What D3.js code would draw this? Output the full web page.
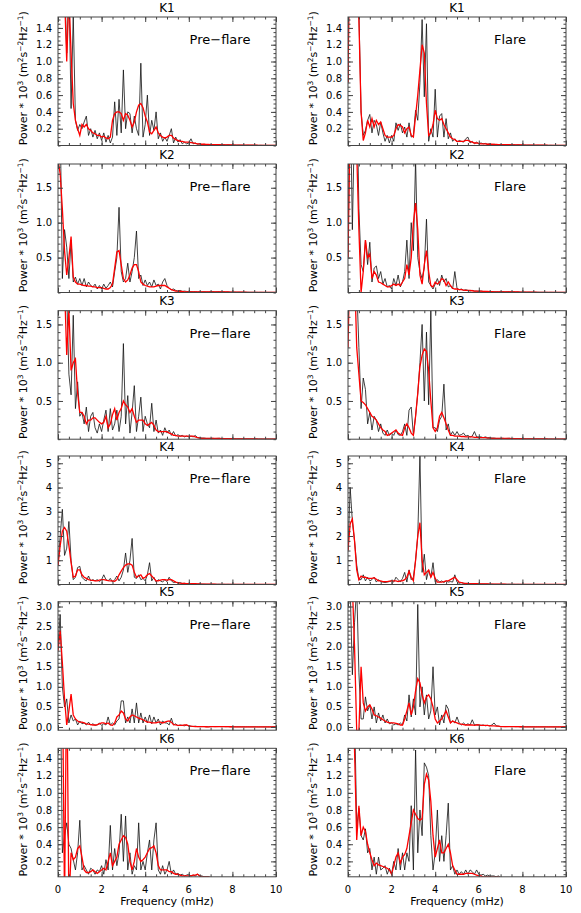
<!DOCTYPE html>
<html>
<head>
<meta charset="utf-8">
<script src="https://cdn.jsdelivr.net/npm/d3@7"></script>
<style>
  body { margin: 0; background: #fff; }
  svg { display: block; font-family: "DejaVu Sans", sans-serif; }
</style>
</head>
<body>
<svg id="chart" width="581" height="913"></svg>
<script>

// frequency grid, 0.1 mHz steps from 0 to 10 mHz
const freq = d3.range(0, 101).map(i => i / 10)

// values from 7.0 to 10.0 mHz, nearly flat for every panel
const rawTail = [0.01,0.012,0.008,0.01,0.012,0.008,0.01,0.006,0.008,0.006,
                 0.005,0.006,0.004,0.005,0.004,0.004,0.003,0.004,0.003,0.003,
                 0.003,0.003,0.002,0.003,0.002,0.002,0.002,0.002,0.002,0.002,0.002]
const smoothTail = [0.01,0.01,0.01,0.009,0.009,0.008,0.008,0.007,0.007,0.006,
                    0.006,0.005,0.005,0.005,0.004,0.004,0.004,0.003,0.003,0.003,
                    0.003,0.003,0.002,0.002,0.002,0.002,0.002,0.002,0.002,0.002,0.002]

// power (x10^3), 0.0 .. 6.9 mHz ; black = raw, red = smoothed
const k1PreRaw = [3.0,2.8,2.4,2.0,1.1,1.9,0.44,1.55,0.3,0.18,
  0.25,0.2,0.28,0.35,0.12,0.2,0.1,0.18,0.08,0.15,
  0.06,0.15,0.04,0.12,0.03,0.1,0.52,0.12,0.55,0.15,
  0.9,0.2,0.4,0.38,0.15,0.35,0.2,0.12,0.98,0.1,
  0.25,0.6,0.12,0.3,0.18,0.4,0.08,0.15,0.05,0.1,
  0.05,0.12,0.2,0.03,0.1,0.04,0.07,0.02,0.04,0.02,
  0.03,0.08,0.02,0.03,0.015,0.02,0.01,0.015,0.01,0.01]
const k1PreSmooth = [3.0,2.6,2.2,1.8,1.0,1.8,1.1,0.5,0.3,0.2,
  0.12,0.25,0.22,0.25,0.2,0.18,0.15,0.14,0.12,0.12,
  0.1,0.11,0.09,0.08,0.1,0.3,0.38,0.4,0.4,0.38,
  0.3,0.38,0.36,0.3,0.22,0.28,0.4,0.48,0.5,0.45,
  0.35,0.28,0.16,0.14,0.18,0.22,0.15,0.12,0.1,0.09,
  0.1,0.12,0.12,0.09,0.07,0.06,0.05,0.05,0.04,0.04,
  0.04,0.035,0.03,0.025,0.02,0.02,0.015,0.015,0.012,0.012]
const k1FlareRaw = [0.75,3.0,2.8,2.5,2.0,1.6,0.4,0.12,0.18,0.3,
  0.37,0.15,0.3,0.25,0.12,0.28,0.15,0.05,0.12,0.03,
  0.12,0.05,0.27,0.18,0.26,0.15,0.22,0.1,0.27,0.1,
  0.12,0.42,0.3,0.75,1.5,0.58,1.45,0.05,0.2,0.1,
  0.67,0.1,0.35,0.38,0.1,0.32,0.08,0.15,0.05,0.08,
  0.04,0.06,0.05,0.04,0.08,0.1,0.03,0.05,0.02,0.04,
  0.02,0.03,0.02,0.025,0.015,0.02,0.01,0.015,0.01,0.01]
const k1FlareSmooth = [0.75,3.0,2.7,2.3,1.9,1.5,0.4,0.06,0.15,0.3,
  0.22,0.32,0.22,0.3,0.25,0.28,0.2,0.12,0.1,0.1,
  0.1,0.12,0.2,0.25,0.24,0.22,0.15,0.2,0.22,0.12,
  0.1,0.35,0.6,0.9,1.2,1.1,0.5,0.12,0.15,0.25,
  0.42,0.32,0.3,0.32,0.25,0.2,0.15,0.1,0.08,0.07,
  0.05,0.05,0.05,0.05,0.06,0.06,0.05,0.04,0.03,0.03,
  0.025,0.02,0.02,0.02,0.015,0.015,0.015,0.012,0.012,0.01]

const k2PreRaw = [1.9,2.5,0.2,0.9,0.65,0.2,0.75,0.15,0.22,0.12,
  0.2,0.1,0.2,0.08,0.15,0.1,0.08,0.12,0.05,0.1,
  0.05,0.12,0.06,0.1,0.15,0.08,0.3,0.5,1.22,0.3,
  0.15,0.2,0.42,0.15,0.3,0.5,0.88,0.2,0.25,0.1,
  0.18,0.1,0.15,0.08,0.18,0.1,0.12,0.05,0.15,0.2,
  0.1,0.06,0.04,0.05,0.03,0.02,0.03,0.015,0.02,0.015,
  0.01,0.012,0.01,0.012,0.008,0.01,0.008,0.01,0.008,0.008]
const k2PreSmooth = [1.9,1.7,1.2,0.6,0.25,0.5,0.8,0.22,0.15,0.12,
  0.12,0.11,0.1,0.1,0.09,0.09,0.08,0.08,0.07,0.07,
  0.07,0.06,0.05,0.05,0.07,0.12,0.35,0.58,0.6,0.4,
  0.2,0.15,0.18,0.25,0.35,0.4,0.4,0.3,0.15,0.12,
  0.1,0.09,0.08,0.08,0.08,0.09,0.1,0.1,0.1,0.1,
  0.08,0.06,0.04,0.03,0.02,0.02,0.015,0.015,0.01,0.01,
  0.01,0.01,0.01,0.01,0.01,0.01,0.01,0.01,0.01,0.01]
const k2FlareRaw = [0.5,3.0,0.9,2.5,3.0,1.2,0.4,0.3,0.75,0.4,
  0.72,0.15,0.35,0.38,0.2,0.3,0.12,0.2,0.08,0.1,
  0.05,0.2,0.1,0.25,0.08,0.15,0.3,0.75,0.2,1.0,
  0.6,1.9,0.5,0.3,0.2,0.35,1.05,0.15,0.1,0.05,
  0.12,0.2,0.1,0.25,0.15,0.2,0.08,0.1,0.05,0.3,
  0.06,0.04,0.05,0.03,0.04,0.03,0.02,0.03,0.02,0.02,
  0.015,0.02,0.015,0.015,0.01,0.015,0.01,0.01,0.01,0.01]
const k2FlareSmooth = [0.5,2.5,2.8,3.0,2.0,0.9,0.0,0.3,0.75,0.5,
  0.55,0.2,0.3,0.25,0.15,0.14,0.12,0.1,0.08,0.08,
  0.1,0.12,0.1,0.12,0.1,0.15,0.2,0.4,0.25,0.5,
  1.0,1.28,0.9,0.25,0.12,0.4,0.6,0.3,0.1,0.08,
  0.15,0.12,0.15,0.2,0.18,0.1,0.15,0.1,0.06,0.05,
  0.05,0.04,0.04,0.035,0.03,0.03,0.03,0.025,0.02,0.02,
  0.02,0.02,0.015,0.015,0.015,0.012,0.012,0.01,0.01,0.01]

const k3PreRaw = [3.0,2.8,2.5,2.0,1.9,0.85,0.58,1.62,0.4,0.75,
  0.3,0.35,0.2,0.42,0.1,0.3,0.35,0.15,0.08,0.2,
  0.1,0.25,0.38,0.1,0.4,0.12,0.2,0.38,0.1,0.3,
  1.25,0.2,0.57,0.08,0.35,0.7,0.1,0.3,0.55,0.1,
  0.3,0.2,0.15,0.47,0.1,0.25,0.08,0.12,0.05,0.15,
  0.08,0.12,0.05,0.1,0.04,0.06,0.04,0.05,0.03,0.04,
  0.03,0.04,0.03,0.05,0.02,0.02,0.015,0.015,0.01,0.01]
const k3PreSmooth = [3.0,2.8,2.5,2.0,1.1,1.7,0.9,1.0,1.05,0.6,
  0.35,0.35,0.3,0.2,0.25,0.25,0.28,0.28,0.25,0.22,
  0.2,0.22,0.3,0.15,0.2,0.32,0.4,0.25,0.35,0.4,
  0.5,0.45,0.42,0.35,0.4,0.3,0.22,0.25,0.25,0.25,
  0.2,0.18,0.2,0.22,0.18,0.12,0.1,0.1,0.1,0.1,
  0.1,0.08,0.07,0.05,0.05,0.04,0.04,0.04,0.04,0.04,
  0.04,0.04,0.04,0.03,0.02,0.015,0.01,0.01,0.01,0.01]
const k3FlareRaw = [1.5,3.0,1.7,3.0,2.0,1.2,0.4,0.8,0.65,0.2,
  0.35,0.12,0.3,0.25,0.1,0.2,0.08,0.05,0.12,0.05,
  0.08,0.05,0.12,0.06,0.05,0.1,0.2,0.05,0.38,0.42,
  0.05,0.3,0.6,1.0,1.5,0.5,1.4,0.45,1.68,0.15,
  0.15,0.1,0.25,0.3,0.72,0.12,0.2,0.05,0.1,0.05,
  0.1,0.05,0.06,0.08,0.04,0.05,0.03,0.04,0.1,0.03,
  0.03,0.03,0.02,0.03,0.02,0.02,0.015,0.015,0.01,0.01]
const k3FlareSmooth = [1.2,2.5,3.0,2.2,1.2,0.85,0.5,0.48,0.45,0.4,
  0.35,0.3,0.28,0.25,0.2,0.15,0.12,0.1,0.05,0.06,
  0.08,0.1,0.12,0.08,0.06,0.05,0.15,0.2,0.15,0.08,
  0.05,0.3,0.6,0.95,1.1,1.18,1.15,0.9,0.5,0.15,
  0.1,0.15,0.3,0.35,0.28,0.2,0.12,0.05,0.05,0.04,
  0.04,0.04,0.035,0.035,0.03,0.03,0.03,0.03,0.025,0.025,
  0.02,0.02,0.02,0.02,0.015,0.015,0.012,0.012,0.01,0.01]

const k4PreRaw = [0.8,2.0,3.1,1.2,1.5,2.6,1.0,0.2,0.3,0.7,
  0.75,0.3,0.2,0.15,0.35,0.15,0.2,0.15,0.2,0.12,
  0.2,0.4,0.2,0.15,0.25,0.1,0.2,0.35,0.15,0.3,
  0.6,1.3,0.5,1.0,1.9,0.3,0.25,0.4,0.2,0.25,
  0.15,0.4,0.9,0.15,0.3,0.1,0.2,0.15,0.1,0.2,
  0.12,0.3,0.15,0.08,0.1,0.05,0.08,0.04,0.05,0.03,
  0.04,0.03,0.03,0.02,0.02,0.02,0.015,0.015,0.01,0.01]
const k4PreSmooth = [0.8,1.6,2.2,2.35,2.2,1.6,0.9,0.3,0.35,0.6,
  0.6,0.4,0.3,0.25,0.2,0.18,0.17,0.15,0.15,0.18,
  0.2,0.2,0.18,0.16,0.15,0.15,0.13,0.2,0.4,0.55,
  0.7,0.8,0.85,0.85,0.8,0.5,0.3,0.35,0.4,0.25,
  0.3,0.4,0.45,0.35,0.25,0.15,0.15,0.18,0.2,0.2,
  0.18,0.2,0.2,0.15,0.1,0.08,0.06,0.05,0.05,0.04,
  0.04,0.03,0.03,0.03,0.02,0.02,0.015,0.015,0.01,0.01]
const k4FlareRaw = [1.4,4.0,2.6,1.8,0.8,0.2,0.2,0.4,0.15,0.3,
  0.15,0.2,0.3,0.1,0.2,0.12,0.1,0.08,0.1,0.12,
  0.15,0.1,0.3,0.2,0.1,0.25,0.5,0.1,0.6,0.2,
  0.3,1.0,2.0,5.35,0.5,1.25,0.2,0.6,0.3,0.9,
  0.1,0.2,0.1,0.15,0.08,0.15,0.1,0.12,0.1,0.4,
  0.1,0.05,0.08,0.05,0.04,0.05,0.03,0.04,0.03,0.03,
  0.03,0.02,0.02,0.02,0.02,0.015,0.015,0.01,0.01,0.01]
const k4FlareSmooth = [1.4,2.5,2.7,1.8,0.6,0.2,0.35,0.3,0.3,0.25,
  0.25,0.25,0.28,0.22,0.15,0.15,0.12,0.12,0.12,0.14,
  0.15,0.15,0.15,0.12,0.15,0.15,0.2,0.3,0.55,0.3,
  0.15,1.0,2.0,2.55,1.0,0.4,0.5,0.6,0.3,0.5,
  0.25,0.1,0.1,0.1,0.12,0.15,0.15,0.2,0.25,0.3,
  0.2,0.1,0.08,0.06,0.05,0.04,0.04,0.03,0.03,0.03,
  0.025,0.025,0.02,0.02,0.02,0.015,0.015,0.012,0.012,0.01]

const k5PreRaw = [2.0,2.8,1.0,0.5,0.7,0.1,0.3,0.15,0.2,0.05,
  0.15,0.08,0.1,0.05,0.12,0.05,0.08,0.04,0.05,0.1,
  0.04,0.08,0.05,0.25,0.05,0.1,0.05,0.15,0.2,0.65,
  0.65,0.1,0.25,0.1,0.45,0.1,0.6,0.1,0.35,0.1,
  0.25,0.1,0.3,0.08,0.25,0.1,0.2,0.05,0.15,0.1,
  0.1,0.05,0.22,0.05,0.08,0.03,0.05,0.04,0.03,0.05,
  0.02,0.02,0.01,0.02,0.01,0.01,0.01,0.01,0.005,0.005]
const k5PreSmooth = [1.9,2.4,1.6,0.7,0.05,0.4,0.82,0.3,0.2,0.15,
  0.12,0.12,0.1,0.08,0.07,0.06,0.05,0.05,0.06,0.08,
  0.1,0.1,0.08,0.1,0.05,0.04,0.1,0.25,0.3,0.4,
  0.35,0.2,0.15,0.25,0.3,0.28,0.25,0.22,0.2,0.18,
  0.15,0.12,0.12,0.1,0.1,0.1,0.12,0.12,0.1,0.12,
  0.14,0.15,0.12,0.06,0.05,0.04,0.04,0.04,0.05,0.05,
  0.03,0.02,0.015,0.01,0.01,0.01,0.01,0.008,0.006,0.005]
const k5FlareRaw = [3.5,3.5,1.3,2.6,3.5,1.35,0.2,0.2,0.75,0.4,
  0.55,0.2,0.5,0.1,0.35,0.15,0.3,0.1,0.2,0.08,
  0.1,0.05,0.08,0.05,0.1,0.05,0.3,0.15,0.8,0.25,
  0.7,0.3,3.05,0.5,1.0,0.3,0.8,0.2,0.4,1.5,
  0.3,0.5,0.05,0.3,0.1,0.55,0.45,0.1,0.15,0.1,
  0.25,0.1,0.05,0.1,0.05,0.08,0.05,0.18,0.05,0.06,
  0.05,0.04,0.05,0.03,0.04,0.03,0.05,0.1,0.03,0.02]
const k5FlareSmooth = [3.5,3.5,3.5,2.0,-0.1,-0.1,1.5,0.6,0.4,0.5,
  0.55,0.45,0.3,0.28,0.25,0.22,0.18,0.15,0.12,0.1,
  0.1,0.1,0.09,0.08,0.05,0.05,0.2,0.4,0.6,0.3,
  0.5,0.9,1.2,1.1,0.8,0.6,0.75,0.8,0.7,0.5,
  0.2,0.1,0.15,0.2,0.3,0.4,0.25,0.1,0.15,0.12,
  0.1,0.08,0.07,0.06,0.05,0.05,0.05,0.05,0.04,0.05,
  0.05,0.04,0.04,0.04,0.04,0.03,0.03,0.03,0.02,0.02]

const k6PreRaw = [3.0,2.5,0.3,0.5,0.65,0.4,0.35,0.22,0.1,0.3,
  0.68,0.1,0.15,0.1,0.05,0.12,0.1,0.05,0.1,0.08,
  0.15,0.05,0.22,0.1,0.62,0.1,0.35,0.15,0.3,0.75,
  0.2,0.73,0.1,0.3,0.05,0.15,0.1,0.65,0.1,0.2,
  0.1,0.3,0.45,0.1,0.45,0.65,0.1,0.05,0.15,0.05,
  0.1,0.2,0.05,0.1,0.05,0.06,0.04,0.05,0.03,0.04,
  0.05,0.03,0.04,0.03,0.05,0.03,0.03,0.02,0.02,0.02]
const k6PreSmooth = [2.5,2.5,2.5,-0.3,2.5,-0.3,0.3,0.22,0.25,0.35,
  0.38,0.25,0.1,0.07,0.07,0.08,0.1,0.08,0.06,0.08,
  0.1,0.12,0.1,0.2,0.3,0.15,0.2,0.25,0.4,0.45,
  0.5,0.48,0.4,0.2,0.1,0.2,0.35,0.25,0.2,0.22,
  0.25,0.3,0.35,0.36,0.38,0.3,0.15,0.1,0.1,0.1,
  0.1,0.08,0.08,0.06,0.05,0.05,0.04,0.03,0.03,0.03,
  0.03,0.03,0.04,0.04,0.05,0.03,0.02,0.02,0.02,0.02]
const k6FlareRaw = [3.0,3.0,3.0,2.0,0.6,0.82,0.5,0.45,0.58,0.3,
  0.35,0.1,0.25,0.05,0.25,0.1,0.12,0.15,0.05,0.12,
  0.05,0.2,0.1,0.35,0.1,0.3,0.1,0.3,0.2,0.85,
  0.1,1.5,0.3,0.8,0.5,1.35,1.3,1.2,0.5,0.1,
  0.3,0.8,0.2,0.5,0.2,0.5,0.88,0.1,0.15,0.05,
  0.1,0.05,0.08,0.05,0.1,0.05,0.1,0.08,0.05,0.1,
  0.05,0.04,0.05,0.03,0.04,0.03,0.03,0.03,0.02,0.03]
const k6FlareSmooth = [3.0,3.0,3.0,1.5,0.45,0.85,0.5,0.6,0.55,0.4,
  0.3,0.22,0.15,0.18,0.16,0.15,0.14,0.13,0.12,0.1,
  0.05,0.15,0.25,0.3,0.18,0.25,0.28,0.35,0.5,0.65,
  0.8,0.75,0.7,0.68,0.7,1.1,1.22,1.15,0.9,0.5,
  0.25,0.35,0.45,0.3,0.3,0.35,0.4,0.3,0.15,0.1,
  0.05,0.05,0.05,0.05,0.06,0.06,0.06,0.06,0.05,0.04,
  0.03,0.03,0.02,0.02,0.02,0.02,0.015,0.015,0.015,0.015]

const bands = ["K1", "K2", "K3", "K4", "K5", "K6"]
const phases = ["Pre\u2212flare", "Flare"]
const rawSeries = [[k1PreRaw, k1FlareRaw], [k2PreRaw, k2FlareRaw], [k3PreRaw, k3FlareRaw],
                   [k4PreRaw, k4FlareRaw], [k5PreRaw, k5FlareRaw], [k6PreRaw, k6FlareRaw]]
const smoothSeries = [[k1PreSmooth, k1FlareSmooth], [k2PreSmooth, k2FlareSmooth], [k3PreSmooth, k3FlareSmooth],
                      [k4PreSmooth, k4FlareSmooth], [k5PreSmooth, k5FlareSmooth], [k6PreSmooth, k6FlareSmooth]]

// y axis ranges, labelled ticks and minor tick step per band
const yDomains = [[0, 1.53], [0, 1.84], [0, 1.68], [0, 5.3], [-0.08, 3.12], [0.02, 1.52]]
const yTicks = [[0.2, 0.4, 0.6, 0.8, 1.0, 1.2, 1.4], [0.5, 1.0, 1.5], [0.5, 1.0, 1.5],
                [1, 2, 3, 4, 5], [0, 0.5, 1.0, 1.5, 2.0, 2.5, 3.0], [0.2, 0.4, 0.6, 0.8, 1.0, 1.2, 1.4]]
const yMinor = [0.05, 0.1, 0.1, 0.2, 0.1, 0.05]
const yFormats = [".1f", ".1f", ".1f", "d", ".1f", ".1f"]
const xTicks = [0, 2, 4, 6, 8, 10]


const svg = d3.select("#chart")

const W = 218, H = 128.5
const colX = [58, 348]
const rowY = [17, 164, 310.7, 456, 601.7, 748.3]
const frameColor = "#444"

const x = d3.scaleLinear().domain([0, 10]).range([0, W])
const xMinor = d3.range(0, 10.001, 0.5)

bands.forEach((band, r) => {

        const y = d3.scaleLinear().domain(yDomains[r]).range([H, 0])
        const [y0, y1] = yDomains[r]
        const minor = d3.range(Math.ceil(y0 / yMinor[r]) * yMinor[r], y1, yMinor[r])

        phases.forEach((phase, c) => {

                const g = svg.append("g")
                        .attr("transform", `translate(${colX[c]}, ${rowY[r]})`)

                const clipId = `clip-${r}-${c}`
                g.append("clipPath").attr("id", clipId)
                        .append("rect").attr("width", W).attr("height", H)

                const line = d3.line()
                        .x((d, i) => x(freq[i]))
                        .y(d => y(d))

                const raw = rawSeries[r][c].concat(rawTail)
                const smooth = smoothSeries[r][c].concat(smoothTail)

                const plot = g.append("g").attr("clip-path", `url(#${clipId})`)

                plot.append("path")
                        .attr("d", line(raw))
                        .attr("fill", "none")
                        .attr("stroke", "#111")
                        .attr("stroke-width", 0.8)

                plot.append("path")
                        .attr("d", line(smooth))
                        .attr("fill", "none")
                        .attr("stroke", "#ff0000")
                        .attr("stroke-width", 1.3)

                //ticks pointing inwards on all four sides
                const axes = [
                        [d3.axisBottom(x), `translate(0, ${H})`, xTicks, xMinor],
                        [d3.axisTop(x), null, xTicks, xMinor],
                        [d3.axisLeft(y), null, yTicks[r], minor],
                        [d3.axisRight(y), `translate(${W}, 0)`, yTicks[r], minor]
                ]
                axes.forEach(([ax, tr, major, small]) => {
                        const gm = g.append("g").attr("transform", tr)
                        gm.call(ax.tickValues(small).tickSize(-2.5).tickSizeOuter(0).tickFormat(""))
                        const gM = g.append("g").attr("transform", tr)
                        gM.call(ax.tickValues(major).tickSize(-5).tickSizeOuter(0).tickFormat(""))
                        ;[gm, gM].forEach(a => {
                                a.select(".domain").remove()
                                a.selectAll("line").attr("stroke", frameColor)
                        })
                })

                // tick labels
                const fmt = d3.format(yFormats[r])
                g.append("g").selectAll("text")
                        .data(yTicks[r])
                        .join("text")
                        .attr("x", -6)
                        .attr("y", d => y(d))
                        .attr("dy", "0.36em")
                        .attr("text-anchor", "end")
                        .attr("font-size", 10)
                        .text(d => fmt(d))

                if (r === bands.length - 1) {
                        g.append("g").selectAll("text")
                                .data(xTicks)
                                .join("text")
                                .attr("x", d => x(d))
                                .attr("y", H + 16)
                                .attr("text-anchor", "middle")
                                .attr("font-size", 10)
                                .text(d => d)

                        g.append("text")
                                .attr("x", W / 2)
                                .attr("y", H + 28)
                                .attr("text-anchor", "middle")
                                .attr("font-size", 11)
                                .text("Frequency (mHz)")
                }

                g.append("rect")
                        .attr("width", W).attr("height", H)
                        .attr("fill", "none")
                        .attr("stroke", frameColor)

                g.append("text")
                        .attr("x", W / 2)
                        .attr("y", -5.5)
                        .attr("text-anchor", "middle")
                        .attr("font-size", 12)
                        .text(band)

                g.append("text")
                        .attr("x", 162)
                        .attr("y", 27)
                        .attr("text-anchor", "middle")
                        .attr("font-size", 13)
                        .text(phase)

                // y label with superscripts
                const lab = g.append("text")
                        .attr("transform", `translate(-31, ${H / 2 - 3}) rotate(-90)`)
                        .attr("text-anchor", "middle")
                        .attr("font-size", 11)
                const parts = [["Power * 10", 0], ["3", 1], [" (m", 0], ["2", 1], ["s", 0],
                               ["\u22122", 1], ["Hz", 0], ["\u22121", 1], [")", 0]]
                let up = false
                parts.forEach(([t, sup]) => {
                        const s = lab.append("tspan").text(t)
                        if (sup) {
                                s.attr("font-size", 7.5)
                                if (!up) s.attr("dy", -4)
                                up = true
                        } else if (up) {
                                s.attr("dy", 4)
                                up = false
                        }
                })
        })
})

</script>
</body>
</html>
